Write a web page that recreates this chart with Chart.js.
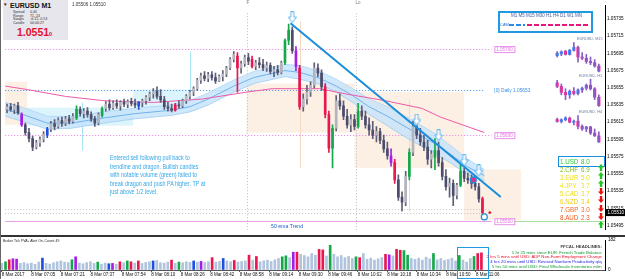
<!DOCTYPE html>
<html lang="en">
<head>
<meta charset="utf-8">
<title>EURUSD M1</title>
<script src="https://cdn.jsdelivr.net/npm/chart.js@4.4.1/dist/chart.umd.min.js"></script>
<style>
  body { margin: 0; background: #fff; }
  #wrap { position: relative; width: 625px; height: 279px; overflow: hidden; background: #fff;
          font-family: "Liberation Sans", Arial, sans-serif; }
  #wrap canvas { position: absolute; }
  .txt { position: absolute; white-space: nowrap; line-height: 1; }
</style>
</head>
<body>
<div id="wrap">
  <canvas id="main-chart" width="625" height="235" style="left:0;top:0"></canvas>
  <div style="position:absolute;left:0;top:235px;width:625px;height:2px;background:#333"></div>
  <canvas id="volume-chart" width="625" height="42" style="left:0;top:237px"></canvas>
  <canvas id="mini-m15" width="50" height="32" style="left:553px;top:41px"></canvas>
  <canvas id="mini-h1" width="50" height="30" style="left:553px;top:78px"></canvas>
  <canvas id="mini-h4" width="50" height="30" style="left:553px;top:114px"></canvas>
  <div style="position:absolute;left:0;top:0;width:1px;height:279px;background:#666"></div>
  <div style="position:absolute;left:3px;top:0;width:65px;height:40px;background:#e6e6ec"></div>
  <div style="position:absolute;left:498px;top:11px;width:91px;height:18px;border:2px solid #1e9be0"></div>
  <div style="position:absolute;left:509px;top:24px;width:16px;height:2px;background:repeating-linear-gradient(90deg,#2a8ae6 0 5px,transparent 5px 7px)"></div>
  <div style="position:absolute;left:527px;top:24px;width:61px;height:2px;background:repeating-linear-gradient(90deg,#e8157a 0 5px,transparent 5px 7px)"></div>
  <div style="position:absolute;left:558px;top:156px;width:45px;height:9px;border:1px solid #1a8fe0"></div>
  <div style="position:absolute;left:457px;top:247px;width:30px;height:30px;border:1.5px solid #1e9be0"></div>
</div>
<script>
// Velas de 2 minutos, EURUSD 8 Mar 2017 (x = minutos desde 06:48)
const barTimes = Array.from({ length: 131 }, (_, i) => 1 + 2 * i);

const opens = [1.05630,1.05633,1.05630,1.05634,1.05624,1.05612,1.05603,1.05596,1.05586,1.05591,
  1.05595,1.05600,1.05607,1.05613,1.05610,1.05617,1.05614,1.05619,1.05616,1.05620,
  1.05630,1.05625,1.05628,1.05624,1.05619,1.05614,1.05623,1.05631,1.05636,1.05632,
  1.05637,1.05634,1.05638,1.05636,1.05639,1.05637,1.05634,1.05638,1.05640,1.05644,
  1.05648,1.05651,1.05645,1.05641,1.05633,1.05631,1.05629,1.05635,1.05634,1.05640,
  1.05645,1.05650,1.05654,1.05664,1.05669,1.05666,1.05670,1.05667,1.05663,1.05668,
  1.05671,1.05678,1.05688,1.05692,1.05678,1.05683,1.05690,1.05688,1.05680,1.05684,
  1.05682,1.05678,1.05681,1.05674,1.05676,1.05673,1.05684,1.05710,1.05722,1.05698,
  1.05678,1.05633,1.05642,1.05650,1.05658,1.05678,1.05672,1.05656,1.05624,1.05585,
  1.05608,1.05640,1.05634,1.05622,1.05612,1.05618,1.05610,1.05628,1.05622,1.05612,
  1.05606,1.05600,1.05604,1.05594,1.05584,1.05576,1.05568,1.05548,1.05528,1.05522,
  1.05552,1.05580,1.05610,1.05600,1.05592,1.05586,1.05572,1.05574,1.05582,1.05568,
  1.05552,1.05540,1.05544,1.05530,1.05542,1.05558,1.05550,1.05548,1.05544,1.05540,
  1.05526];
const highs = [1.05636,1.05637,1.05636,1.05638,1.05626,1.05614,1.05608,1.05599,1.05594,1.05598,
  1.05604,1.05609,1.05616,1.05618,1.05620,1.05621,1.05622,1.05623,1.05625,1.05634,
  1.05633,1.05631,1.05632,1.05627,1.05622,1.05626,1.05633,1.05639,1.05641,1.05640,
  1.05641,1.05640,1.05642,1.05641,1.05643,1.05642,1.05639,1.05642,1.05646,1.05650,
  1.05654,1.05656,1.05653,1.05645,1.05638,1.05636,1.05637,1.05640,1.05642,1.05647,
  1.05652,1.05656,1.05666,1.05672,1.05674,1.05673,1.05674,1.05672,1.05670,1.05675,
  1.05680,1.05690,1.05697,1.05696,1.05686,1.05693,1.05695,1.05692,1.05687,1.05690,
  1.05688,1.05685,1.05684,1.05680,1.05681,1.05686,1.05712,1.05729,1.05726,1.05703,
  1.05681,1.05648,1.05658,1.05662,1.05684,1.05683,1.05676,1.05660,1.05628,1.05612,
  1.05646,1.05648,1.05640,1.05630,1.05624,1.05624,1.05637,1.05634,1.05628,1.05620,
  1.05616,1.05610,1.05608,1.05600,1.05592,1.05584,1.05572,1.05554,1.05534,1.05558,
  1.05584,1.05616,1.05616,1.05608,1.05600,1.05594,1.05582,1.05596,1.05592,1.05574,
  1.05560,1.05550,1.05548,1.05544,1.05566,1.05562,1.05556,1.05554,1.05552,1.05544,
  1.05528];
const lows = [1.05626,1.05628,1.05625,1.05624,1.05610,1.05600,1.05592,1.05582,1.05584,1.05587,
  1.05592,1.05597,1.05604,1.05606,1.05608,1.05610,1.05611,1.05613,1.05614,1.05618,
  1.05622,1.05620,1.05621,1.05616,1.05610,1.05612,1.05621,1.05628,1.05629,1.05630,
  1.05631,1.05629,1.05633,1.05632,1.05634,1.05632,1.05630,1.05633,1.05636,1.05640,
  1.05643,1.05642,1.05638,1.05630,1.05628,1.05627,1.05628,1.05631,1.05632,1.05637,
  1.05642,1.05646,1.05652,1.05660,1.05663,1.05662,1.05664,1.05660,1.05662,1.05663,
  1.05668,1.05676,1.05685,1.05650,1.05672,1.05680,1.05682,1.05678,1.05676,1.05678,
  1.05675,1.05674,1.05671,1.05668,1.05670,1.05671,1.05682,1.05705,1.05695,1.05675,
  1.05630,1.05628,1.05636,1.05645,1.05655,1.05668,1.05652,1.05620,1.05580,1.05562,
  1.05605,1.05630,1.05618,1.05608,1.05604,1.05606,1.05608,1.05618,1.05608,1.05600,
  1.05596,1.05592,1.05590,1.05580,1.05572,1.05564,1.05544,1.05524,1.05512,1.05518,
  1.05548,1.05576,1.05596,1.05588,1.05582,1.05566,1.05562,1.05560,1.05564,1.05548,
  1.05536,1.05528,1.05518,1.05526,1.05540,1.05546,1.05544,1.05538,1.05536,1.05522,
  1.05503];
const closes = [1.05633,1.05630,1.05634,1.05626,1.05612,1.05603,1.05596,1.05586,1.05591,1.05595,
  1.05601,1.05607,1.05613,1.05610,1.05617,1.05614,1.05619,1.05616,1.05622,1.05630,
  1.05625,1.05628,1.05624,1.05619,1.05614,1.05624,1.05631,1.05636,1.05632,1.05637,
  1.05634,1.05638,1.05636,1.05639,1.05637,1.05635,1.05638,1.05640,1.05644,1.05648,
  1.05651,1.05645,1.05641,1.05633,1.05631,1.05629,1.05635,1.05634,1.05640,1.05645,
  1.05650,1.05654,1.05664,1.05669,1.05666,1.05670,1.05667,1.05663,1.05668,1.05671,
  1.05678,1.05688,1.05694,1.05678,1.05683,1.05690,1.05686,1.05680,1.05684,1.05682,
  1.05678,1.05681,1.05674,1.05676,1.05673,1.05684,1.05710,1.05722,1.05698,1.05680,
  1.05633,1.05642,1.05650,1.05658,1.05678,1.05672,1.05656,1.05624,1.05585,1.05608,
  1.05640,1.05634,1.05622,1.05612,1.05618,1.05610,1.05628,1.05622,1.05612,1.05606,
  1.05600,1.05604,1.05594,1.05584,1.05576,1.05568,1.05548,1.05528,1.05522,1.05552,
  1.05580,1.05610,1.05600,1.05592,1.05586,1.05572,1.05578,1.05582,1.05568,1.05552,
  1.05540,1.05544,1.05530,1.05542,1.05558,1.05550,1.05548,1.05544,1.05540,1.05526,
  1.05510];
const tickVolumes = [40,50,62,68,66,40,45,38,42,35, 48,72,40,36,44,50,55,48,45,62,
  80,42,38,45,50,40,48,35,42,38, 40,35,50,44,55,50,42,55,40,46,
  50,55,58,45,42,48,60,40,48,44, 50,46,55,48,52,45,50,75,48,52,
  70,55,50,58,48,52,55,90,60,82, 50,56,60,52,62,70,80,86,75,108,
  108,95,88,80,100,90,125,122,85,150, 95,80,88,75,82,70,80,75,100,65,
  72,60,68,75,95,92,85,125,120,118, 90,70,65,72,60,78,68,100,62,70,
  58,64,72,55,88,60,48,70,82,100, 104];
// PVA: n normal, G climax alcista, R climax bajista, B subida vol. alcista, M subida vol. bajista
const candleTypes = ('nnnnMnnnnn' + 'nBnnnnnnnG' + 'nnnnnnGnnn' + 'nnnnnnBnnn' + 'nnnnnnRnnn' +
  'nnnnnnnnnn' + 'nnnRnnnRnn' + 'nnnnnnGGnM' + 'RnnnnnnRRG' + 'nnnnnnGnnn' +
  'nnnnnMRnnn' + 'GnnnnnnGnn' + 'nnnnGnnnnn' + 'R').split('');
const volumeTypes = ('nGRMMnnnnn' + 'nBnnnnnnnG' + 'MnnnnnGnnB' + 'MnRnGRnRnn' + 'nBnnnnRnGn' +
  'nnBnMnnRnn' + 'BnnRnnnRnR' + 'nnnnnnGGnM' + 'RnnnnnRRnG' + 'nnnnnnGRnn' +
  'nnnnRMnRRG' + 'GnnnnnnGnn' + 'nnnnGnnnGR' + 'R').split('');

// Ejes
const priceTicks = [1.05495,1.05515,1.05535,1.05555,1.05575,1.05595,1.05615,1.05635,1.05655,1.05675,1.05695,1.05715,1.05735];
const timeTicks = [1,17,33,49,66,82,98,114,130,146,162,178,194,210,226,242,258];
const timeLabels = ['8 Mar 2017','8 Mar 07:05','8 Mar 07:21','8 Mar 07:37','8 Mar 07:54','8 Mar 08:10',
  '8 Mar 08:26','8 Mar 08:42','8 Mar 08:58','8 Mar 09:14','8 Mar 09:30','8 Mar 09:46','8 Mar 10:02',
  '8 Mar 10:18','8 Mar 10:34','8 Mar 10:50','8 Mar 11:06'];
const volumeTicks = [0, 182];

// Dragon (banda EMA 34) y EMA lenta
const dragonTimes = [0,11,23,36,54,71,91,101,111,125,136,153,161,172,181,190,199,209,217,226,235,244,253,262];
const dragonTop = [1.05638,1.05631,1.05622,1.05621,1.05627,1.05631,1.05635,1.05640,1.05649,1.05664,1.05674,1.05682,
  1.05681,1.05674,1.05665,1.05654,1.05642,1.05633,1.05624,1.05613,1.05602,1.05587,1.05572,1.05560];
const dragonMid = [1.05630,1.05623,1.05614,1.05614,1.05620,1.05625,1.05629,1.05633,1.05642,1.05657,1.05667,1.05675,
  1.05673,1.05666,1.05657,1.05646,1.05633,1.05622,1.05612,1.05601,1.05590,1.05577,1.05563,1.05553];
const dragonBottom = [1.05622,1.05615,1.05607,1.05608,1.05614,1.05619,1.05623,1.05627,1.05635,1.05650,1.05660,1.05668,
  1.05665,1.05659,1.05650,1.05638,1.05624,1.05611,1.05600,1.05589,1.05579,1.05567,1.05554,1.05547];
const slowEmaTimes = [0,12,33,54,81,108,132,146,172,186,208,228,238,262];
const slowEma = [1.05657,1.05653,1.05645,1.05640,1.05638,1.05642,1.05650,1.05654,1.05654,1.05648,1.05640,1.05631,1.05621,1.05603];

// Línea de tendencia y marcas
const trendTimes = [156, 271];
const trendPrices = [1.05730, 1.05528];
const arrowTimes = [157, 225, 237, 251, 259];
const arrowPrices = [1.05737, 1.05618, 1.05600, 1.05571, 1.05559];
const entryTimes = [256];
const entryPrices = [1.05548];
const exitTimes = [262];
const exitPrices = [1.05505];
const stopTimes = [265];
const stopPrices = [1.05510];

// Niveles horizontales, cajas de sesión y separadores
const levels = [
  { price: 1.05700, from: 0, to: 266, kind: 'quarter', label: '1.05700' },
  { price: 1.05600, from: 0, to: 266, kind: 'quarter', label: '1.05600' },
  { price: 1.05500, from: 0, to: 266, kind: 'half', label: '1.05500' },
  { price: 1.05653, from: 0, to: 262, kind: 'daily', label: '[0] Daily 1.05653' },
  { price: 1.05514, from: 0, to: 266, kind: 'spread' },
  { price: 1.05510, from: 0, to: 266, kind: 'spread' },
  { price: 1.05500, from: 277, to: 328, kind: 'green' }
];
const sessionBoxes = [
  { from: 0, to: 12, high: 1.05662, low: 1.05612, kind: 'peach' },
  { from: 132, to: 191, high: 1.05660, low: 1.05603, kind: 'peach' },
  { from: 191, to: 251, high: 1.05650, low: 1.05562, kind: 'peach' },
  { from: 251, to: 282, high: 1.05560, low: 1.05501, kind: 'peach' },
  { from: 12, to: 70, high: 1.05632, low: 1.05611, kind: 'cyan' },
  { from: 70, to: 101, high: 1.05653, low: 1.05632, kind: 'cyan' }
];
const rangeLines = [
  { at: 42, high: 1.05638, low: 1.05582, kind: 'cyan' },
  { at: 101, high: 1.05697, low: 1.05645, kind: 'cyan' },
  { at: 161, high: 1.05732, low: 1.05562, kind: 'peach' },
  { at: 221, high: 1.05640, low: 1.05512, kind: 'peach' }
];
const sessionMarks = [{ at: 132, label: 'F' }, { at: 192, label: 'Lo' }];
const bidPrice = 1.05510;

// Mini gráficos (M15, H1, H4)
const m15Open = [1.05630,1.05645,1.05665,1.05640,1.05672,1.05695,1.05620,1.05610,1.05585,1.05575,1.05550];
const m15High = [1.05662,1.05668,1.05672,1.05680,1.05732,1.05705,1.05655,1.05640,1.05620,1.05600,1.05565];
const m15Low = [1.05620,1.05630,1.05635,1.05635,1.05665,1.05580,1.05600,1.05570,1.05560,1.05540,1.05504];
const m15Close = [1.05650,1.05660,1.05640,1.05672,1.05695,1.05620,1.05610,1.05585,1.05575,1.05550,1.05510];
const h1Open = [1.05700,1.05670,1.05620,1.05600,1.05630,1.05610,1.05640,1.05655,1.05680,1.05650,1.05580];
const h1High = [1.05720,1.05690,1.05650,1.05640,1.05660,1.05650,1.05665,1.05690,1.05730,1.05660,1.05600];
const h1Low = [1.05660,1.05600,1.05560,1.05570,1.05600,1.05600,1.05620,1.05640,1.05640,1.05560,1.05504];
const h1Close = [1.05670,1.05620,1.05600,1.05630,1.05610,1.05640,1.05655,1.05680,1.05650,1.05580,1.05510];
const h4Open = [1.05840,1.05810,1.05835,1.05860,1.05800,1.05815,1.05740,1.05700,1.05730,1.05640,1.05600];
const h4High = [1.05860,1.05850,1.05880,1.05875,1.05830,1.05895,1.05760,1.05740,1.05740,1.05700,1.05660];
const h4Low = [1.05800,1.05790,1.05820,1.05790,1.05760,1.05700,1.05680,1.05660,1.05620,1.05590,1.05504];
const h4Close = [1.05810,1.05835,1.05860,1.05800,1.05815,1.05740,1.05700,1.05730,1.05640,1.05600,1.05510];

// Fuerza de divisas
const currencyNames = ['USD','CHF','EUR','JPY','CAD','NZD','GBP','AUD'];
const currencyStrength = ['8.0','6.9','5.0','3.7','3.7','3.4','3.0','2.3'];
const currencyRising = [true, true, true, false, false, false, false, true];

// Textos
const noteLines = ['Entered sell following pull back to', 'trendline and dragon. Bullish candles',
  'with notable volume (green) failed to', 'break dragon and push PA higher. TP at', 'just above 1/2 level.'];
const headlineLines = ['1 hr 25 mins since EUR: French Trade Balance',
  '2 hrs 5 mins until USD: ADP Non-Farm Employment Change',
  '4 hrs 20 mins until USD: Revised Nonfarm Productivity q/q',
  '5 hrs 50 mins until USD: Final Wholesale Inventories m/m'];

document.addEventListener('DOMContentLoaded', function() {
    const wrap = document.getElementById('wrap');
    Chart.defaults.font.family = '"Liberation Sans", Arial, sans-serif';
    Chart.defaults.animation = false;

    const pvaColors = { G: '#14a84a', R: '#e8174f', B: '#1f4fe0', M: '#a41ee8' };
    const levelStyles = {
        quarter: { color: '#e87de8', dash: [1, 2], width: 1 },
        half: { color: '#e8a0e8', dash: [], width: 1 },
        daily: { color: '#3a8fe8', dash: [1, 2], width: 1 },
        spread: { color: '#c4c4c4', dash: [1, 2], width: 1 },
        green: { color: '#a8e0a0', dash: [], width: 1 }
    };
    const boxColors = { peach: '#fcefe4', cyan: '#dcf4fb' };
    const rangeColors = { peach: '#f6d7bf', cyan: '#a8e6f5' };

    // Colores de velas y volumen
    const bodyColors = candleTypes.map((p, i) => pvaColors[p] || (closes[i] >= opens[i] ? '#b4b4bc' : '#4c4c6c'));
    const wickColors = candleTypes.map((p, i) => pvaColors[p] || '#5e5e76');
    const volumeColors = volumeTypes.map(p => pvaColors[p] || '#b0c4de');

    // Flecha hueca para las señales de venta
    function crearFlecha() {
        const c = document.createElement('canvas');
        c.width = 9; c.height = 12;
        const g = c.getContext('2d');
        g.beginPath();
        g.moveTo(3, 0.5); g.lineTo(6, 0.5); g.lineTo(6, 6); g.lineTo(8.5, 6);
        g.lineTo(4.5, 11.5); g.lineTo(0.5, 6); g.lineTo(3, 6); g.closePath();
        g.fillStyle = '#fff'; g.fill();
        g.strokeStyle = '#5cb6ee'; g.lineWidth = 1; g.stroke();
        return c;
    }

    function puntos(xs, ys) {
        return xs.map((x, i) => ({ x: x, y: ys[i] }));
    }

    // Plugin: cajas, niveles, separadores y etiquetas del eje
    const overlayPlugin = {
        id: 'overlay',
        beforeDatasetsDraw(chart) {
            const { ctx, chartArea, scales: { x, y } } = chart;
            ctx.save();
            sessionBoxes.forEach(b => {
                const x1 = x.getPixelForValue(b.from), x2 = x.getPixelForValue(b.to);
                const y1 = y.getPixelForValue(b.high), y2 = y.getPixelForValue(b.low);
                ctx.fillStyle = boxColors[b.kind];
                ctx.fillRect(x1, y1, x2 - x1, y2 - y1);
            });
            rangeLines.forEach(r => {
                const px = Math.round(x.getPixelForValue(r.at)) + 0.5;
                ctx.strokeStyle = rangeColors[r.kind];
                ctx.lineWidth = 1;
                ctx.beginPath();
                ctx.moveTo(px, y.getPixelForValue(r.high));
                ctx.lineTo(px, y.getPixelForValue(r.low));
                ctx.stroke();
            });
            sessionMarks.forEach(s => {
                const px = Math.round(x.getPixelForValue(s.at)) + 0.5;
                ctx.strokeStyle = '#bdbdbd';
                ctx.setLineDash([1, 2]);
                ctx.beginPath();
                ctx.moveTo(px, chartArea.top + 8);
                ctx.lineTo(px, chartArea.bottom);
                ctx.stroke();
                ctx.setLineDash([]);
                ctx.fillStyle = '#777';
                ctx.font = '4.5px "Liberation Sans"';
                ctx.textBaseline = 'top';
                ctx.fillText(s.label, px - 1, 1);
            });
            levels.forEach(l => {
                const st = levelStyles[l.kind];
                const py = Math.round(y.getPixelForValue(l.price)) + 0.5;
                ctx.strokeStyle = st.color;
                ctx.lineWidth = st.width;
                ctx.setLineDash(st.dash);
                ctx.beginPath();
                ctx.moveTo(x.getPixelForValue(l.from), py);
                ctx.lineTo(x.getPixelForValue(l.to), py);
                ctx.stroke();
            });
            ctx.restore();
        },
        afterDraw(chart) {
            const { ctx, chartArea, scales: { x, y } } = chart;
            ctx.save();
            ctx.textBaseline = 'middle';
            levels.filter(l => l.label).forEach(l => {
                const py = y.getPixelForValue(l.price);
                const px = x.getPixelForValue(267.5);
                if (l.kind === 'daily') {
                    ctx.fillStyle = '#3a8fe8';
                    ctx.font = '4.8px "Liberation Sans"';
                    ctx.fillText(l.label, px, py + 1.5);
                } else {
                    ctx.fillStyle = '#fff';
                    ctx.fillRect(px, py - 3, 20, 6);
                    ctx.strokeStyle = '#e890e8';
                    ctx.lineWidth = 1;
                    ctx.strokeRect(px + 0.5, py - 2.5, 20, 6);
                    ctx.fillStyle = '#e070e0';
                    ctx.font = '4.5px "Liberation Sans"';
                    ctx.fillText(l.label, px + 2, py + 0.5);
                }
            });
            // Precio actual sobre el eje
            const yp = y.getPixelForValue(bidPrice);
            ctx.fillStyle = '#000';
            ctx.fillRect(chartArea.right + 1, yp - 3.5, 20, 7);
            ctx.fillStyle = '#fff';
            ctx.font = '4.6px "Liberation Sans"';
            ctx.fillText(bidPrice.toFixed(5), chartArea.right + 2.5, yp + 0.5);
            ctx.restore();
        }
    };

    // Gráfico principal de precios
    new Chart(document.getElementById('main-chart'), {
        type: 'bar',
        data: {
            datasets: [
                { type: 'line', label: 'Dragon top', data: puntos(dragonTimes, dragonTop), borderColor: '#9ccbf0', borderWidth: 0.8, pointRadius: 0, fill: false, order: 10 },
                { type: 'line', label: 'Dragon bottom', data: puntos(dragonTimes, dragonBottom), borderColor: '#9ccbf0', borderWidth: 0.8, pointRadius: 0, fill: '-1', backgroundColor: 'rgba(196,226,250,0.8)', order: 9 },
                { type: 'line', label: 'Dragon', data: puntos(dragonTimes, dragonMid), borderColor: '#5aa6ea', borderWidth: 0.8, pointRadius: 0, order: 8 },
                { type: 'line', label: 'EMA', data: puntos(slowEmaTimes, slowEma), borderColor: '#ee5aa8', borderWidth: 1, pointRadius: 0, order: 7 },
                { label: 'Wicks', data: barTimes.map((t, i) => ({ x: t, y: [lows[i], highs[i]] })), backgroundColor: wickColors, barThickness: 1, grouped: false, order: 5 },
                { label: 'Bodies', data: barTimes.map((t, i) => ({ x: t, y: [opens[i], closes[i]] })), backgroundColor: bodyColors, barThickness: 2, minBarLength: 1, grouped: false, order: 4 },
                { type: 'line', label: 'Trendline', data: puntos(trendTimes, trendPrices), borderColor: '#1b8ddb', borderWidth: 2, pointRadius: 0, order: 2 },
                { type: 'line', label: 'Entry', data: puntos(entryTimes, entryPrices), showLine: false, pointRadius: 3, pointBackgroundColor: '#e0308a', pointBorderColor: '#1e8fe0', pointBorderWidth: 1.2, order: 1 },
                { type: 'line', label: 'Exit', data: puntos(exitTimes, exitPrices), showLine: false, pointRadius: 3, pointBackgroundColor: '#fff', pointBorderColor: '#1e8fe0', pointBorderWidth: 1.2, order: 1 },
                { type: 'line', label: 'Stop', data: puntos(stopTimes, stopPrices), showLine: false, pointRadius: 1.3, pointBackgroundColor: '#e8102a', pointBorderWidth: 0, order: 1 },
                { type: 'line', label: 'Signals', data: puntos(arrowTimes, arrowPrices), showLine: false, pointStyle: crearFlecha(), order: 0 }
            ]
        },
        options: {
            responsive: false,
            events: [],
            layout: { padding: 0 },
            plugins: { legend: { display: false }, tooltip: { enabled: false } },
            scales: {
                x: { type: 'linear', min: 0, max: 328, offset: false, display: false },
                y: {
                    position: 'right', min: 1.05490, max: 1.05751,
                    grid: { drawOnChartArea: false, tickLength: 1, color: '#000' },
                    border: { color: '#000' },
                    ticks: { font: { size: 4.6 }, color: '#000', padding: 1, callback: v => v.toFixed(5) },
                    afterBuildTicks: s => { s.ticks = priceTicks.map(v => ({ value: v })); },
                    afterFit: s => { s.width = 20; s.paddingTop = 0; s.paddingBottom = 0; }
                }
            }
        },
        plugins: [overlayPlugin]
    });

    // Volumen de ticks (PVA)
    new Chart(document.getElementById('volume-chart'), {
        type: 'bar',
        data: {
            datasets: [{ label: 'Tick volume', data: barTimes.map((t, i) => ({ x: t, y: tickVolumes[i] })), backgroundColor: volumeColors, barThickness: 2 }]
        },
        options: {
            responsive: false,
            events: [],
            layout: { padding: { top: 3 } },
            plugins: { legend: { display: false }, tooltip: { enabled: false } },
            scales: {
                x: {
                    type: 'linear', min: 0, max: 328, offset: false,
                    grid: { drawOnChartArea: false, tickLength: 2, color: '#555', offset: false },
                    border: { color: '#555' },
                    ticks: { align: 'start', font: { size: 4.5 }, color: '#111', padding: 0, maxRotation: 0, autoSkip: false,
                             callback: (v, i) => timeLabels[i] },
                    afterBuildTicks: s => { s.ticks = timeTicks.map(v => ({ value: v })); },
                    afterFit: s => { s.height = 9; s.paddingLeft = 0; s.paddingRight = 0; }
                },
                y: {
                    position: 'right', min: 0, max: 182,
                    grid: { drawOnChartArea: false, tickLength: 1, color: '#000' },
                    border: { color: '#000' },
                    ticks: { font: { size: 4.6 }, color: '#000', padding: 2 },
                    afterBuildTicks: s => { s.ticks = volumeTicks.map(v => ({ value: v })); },
                    afterFit: s => { s.width = 20; s.paddingTop = 0; s.paddingBottom = 0; }
                }
            }
        }
    });

    // Mini gráficos de otros marcos temporales
    function crearMini(id, o, h, l, c, yMin, yMax) {
        const xs = o.map((_, i) => i);
        new Chart(document.getElementById(id), {
            type: 'bar',
            data: {
                datasets: [
                    { data: xs.map(i => ({ x: i, y: [l[i], h[i]] })), backgroundColor: '#8a5cc8', barThickness: 1, grouped: false },
                    { data: xs.map(i => ({ x: i, y: [o[i], c[i]] })), backgroundColor: xs.map(i => c[i] >= o[i] ? '#1e8cff' : '#ff1f8e'), barThickness: 2.5, minBarLength: 1, grouped: false }
                ]
            },
            options: {
                responsive: false, events: [], layout: { padding: 0 },
                plugins: { legend: { display: false }, tooltip: { enabled: false } },
                scales: {
                    x: { type: 'linear', min: -1, max: 11, offset: false, display: false },
                    y: { min: yMin, max: yMax, display: false }
                }
            }
        });
    }
    crearMini('mini-m15', m15Open, m15High, m15Low, m15Close, 1.05495, 1.05745);
    crearMini('mini-h1', h1Open, h1High, h1Low, h1Close, 1.05490, 1.05740);
    crearMini('mini-h4', h4Open, h4High, h4Low, h4Close, 1.05480, 1.05920);

    // Textos superpuestos (se dibujan al doble y se reducen para tamaños pequeños)
    function texto(str, left, top, size, color, extra) {
        const el = document.createElement('div');
        el.className = 'txt';
        el.textContent = str;
        el.style.left = left + 'px';
        el.style.top = top + 'px';
        el.style.fontSize = (size * 2) + 'px';
        el.style.transform = 'scale(0.5)';
        el.style.transformOrigin = '0 0';
        el.style.color = color;
        Object.assign(el.style, extra || {});
        wrap.appendChild(el);
        return el;
    }

    // Caja de información
    texto('▼', 3, 2, 4.5, '#222');
    texto('EURUSD  M1', 10, 2, 7, '#111', { fontWeight: 'bold' });
    [['Spread', '0.40'], ['Range', '71, 24'], ['Swaps', '-6.15, 0.53'], ['Candle', '00:00:27']].forEach((r, i) => {
        texto(r[0], 13, 10 + i * 3.6, 3.6, '#333');
        texto(r[1], 30, 10 + i * 3.6, 3.6, '#333');
    });
    texto('1.0551', 17, 27, 10.5, '#e5102e', { fontWeight: 'bold' });
    texto('0', 49, 30.5, 5.5, '#e5102e', { fontWeight: 'bold' });
    texto('1.05506  1.05510', 72, 1.5, 4.5, '#333');

    // Nota de la operación
    noteLines.forEach((line, i) => {
        texto(line, 110, 154 + i * 8.5, 7, '#35a6e6', { transform: 'scale(0.385, 0.5)' });
    });
    texto('50 ema Trend', 268, 224, 5.2, '#2060d0', { background: '#fff', padding: '0 6px' });

    // Selector de marcos temporales
    texto('M1  M5  M15 M30  H1  H4  D1  W1  MN', 511, 13, 4.5, '#4a5a9a');
    texto('CAM', 499.5, 23, 4, '#2a6ad0');

    // Etiquetas de los mini gráficos
    texto('EURUSD, M15', 577, 37, 3.8, '#6a7aa0');
    texto('EURUSD, H1', 579, 74, 3.8, '#6a7aa0');
    texto('EURUSD, H4', 579, 110, 3.8, '#6a7aa0');

    // Panel de fuerza de divisas
    const rowColors = ['#2cc83c', '#7cbf1c', '#eede10', '#eede10', '#eede10', '#f2cf14', '#f2642a', '#f2561e'];
    currencyNames.forEach((name, i) => {
        const top = 157.5 + i * 8.1;
        const ancho = { transform: 'scale(0.42, 0.5)' };
        texto((i + 1) + '.' + name, 560, top, 7.4, rowColors[i], ancho);
        texto(currencyStrength[i], 581, top, 7.4, rowColors[i], ancho);
        const flecha = document.createElement('div');
        flecha.style.cssText = 'position:absolute;left:598px;top:' + (top - 0.5) + 'px;width:6px;height:7px;';
        const color = currencyRising[i] ? '#22c422' : '#ee1111';
        const giro = currencyRising[i] ? '' : ' transform="rotate(180 3 3.5)"';
        flecha.innerHTML = '<svg width="6" height="7" viewBox="0 0 6 7"><path d="M3 0 L6 3.5 H4.2 V7 H1.8 V3.5 H0 Z" fill="' + color + '"' + giro + '/></svg>';
        wrap.appendChild(flecha);
    });

    // Panel de volumen: cabecera y titulares FFCAL
    texto('Broker Tick PVA+    Alert On.    Count: 49', 3, 238.5, 3.4, '#222');
    texto('FFCAL HEADLINES:', 0, 244, 4.3, '#444', { left: 'auto', right: '23px', transformOrigin: '100% 0', fontWeight: 'bold' });
    const headColors = ['#0a9a2a', '#e8102a', '#1a1ae0', '#0a9a2a'];
    headlineLines.forEach((line, i) => {
        texto(line, 0, 249.5 + i * 4.7, 4.3, headColors[i], { left: 'auto', right: '23px', transformOrigin: '100% 0' });
    });
});
</script>
</body>
</html>
